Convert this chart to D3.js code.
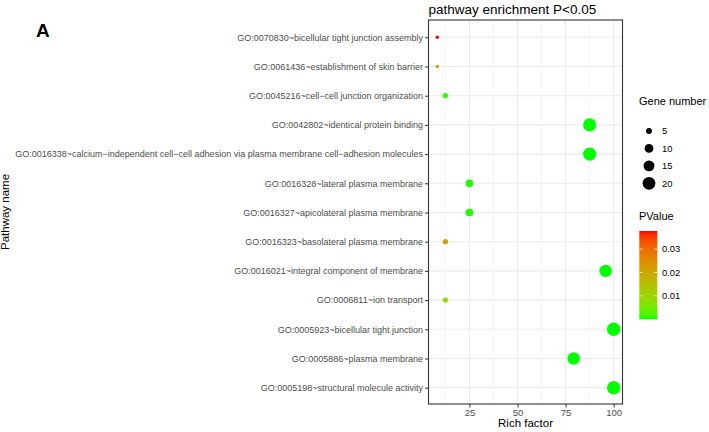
<!DOCTYPE html>
<html><head><meta charset="utf-8">
<script src="https://cdn.jsdelivr.net/npm/d3@7"></script>
<style>body{margin:0;background:#fff;} svg{display:block;font-family:"Liberation Sans",Arial,sans-serif;}</style>
</head><body>
<svg id="c" width="709" height="432"></svg>
<script>
const pathways = [
  "GO:0070830~bicellular tight junction assembly",
  "GO:0061436~establishment of skin barrier",
  "GO:0045216~cell\u2212cell junction organization",
  "GO:0042802~identical protein binding",
  "GO:0016338~calcium\u2212independent cell\u2212cell adhesion via plasma membrane cell\u2212adhesion molecules",
  "GO:0016328~lateral plasma membrane",
  "GO:0016327~apicolateral plasma membrane",
  "GO:0016323~basolateral plasma membrane",
  "GO:0016021~integral component of membrane",
  "GO:0006811~ion transport",
  "GO:0005923~bicellular tight junction",
  "GO:0005886~plasma membrane",
  "GO:0005198~structural molecule activity"
];
const richFactor = [8.3, 8.3, 12.5, 87.5, 87.5, 25, 25, 12.5, 95.8, 12.5, 100, 79.2, 100];
const geneNumber = [2, 2, 4, 21, 21, 8, 8, 4, 19, 4, 22, 19, 22];
const pValue = [0.0377, 0.021, 0.0008, 0.00001, 0.00001, 0.0004, 0.0004, 0.021, 0.00001, 0.009, 0.00001, 0.00001, 0.00001];
const xTicks = [25, 50, 75, 100];
const sizeBreaks = [5, 10, 15, 20];
const colorBreaks = [0.01, 0.02, 0.03];

const svg = d3.select("#c");
const L = 428.5, R = 622.5, T = 20, B = 404;

const xMin = d3.min(richFactor), xMax = d3.max(richFactor);
const xPad = (xMax - xMin) * 0.05;
const x = d3.scaleLinear().domain([xMin - xPad, xMax + xPad]).range([L, R]);
const y = d3.scalePoint().domain(pathways).range([37.3, 387.7]);
const gMin = d3.min(geneNumber), gMax = d3.max(geneNumber);
const rs = d3.scaleLinear().domain([Math.sqrt(gMin), Math.sqrt(gMax)]).range([1.7, 6.7]);
const r = g => rs(Math.sqrt(g));
const pMin = 0, pMax = d3.max(pValue);
const color = d3.scaleLinear().domain([pMin, pMax]).range(["#00ff00", "#ff0000"]).interpolate(d3.interpolateLab);

svg.append("rect").attr("x", L).attr("y", T).attr("width", R - L).attr("height", B - T).attr("fill", "#fff");

const minor = [12.5, 37.5, 62.5, 87.5];
svg.append("g").selectAll("line").data(minor).join("line")
  .attr("x1", d => x(d)).attr("x2", d => x(d)).attr("y1", T).attr("y2", B)
  .attr("stroke", "#f0f0f0").attr("stroke-width", 0.6);
svg.append("g").selectAll("line").data(xTicks).join("line")
  .attr("x1", d => x(d)).attr("x2", d => x(d)).attr("y1", T).attr("y2", B)
  .attr("stroke", "#ebebeb").attr("stroke-width", 1.1);
svg.append("g").selectAll("line").data(pathways).join("line")
  .attr("x1", L).attr("x2", R).attr("y1", d => y(d)).attr("y2", d => y(d))
  .attr("stroke", "#ebebeb").attr("stroke-width", 1.1);

const data = pathways.map((p, i) => ({p, rf: richFactor[i], g: geneNumber[i], pv: pValue[i]}));
svg.append("g").selectAll("circle").data(data).join("circle")
  .attr("cx", d => x(d.rf)).attr("cy", d => y(d.p)).attr("r", d => r(d.g))
  .attr("fill", d => color(d.pv));

svg.append("rect").attr("x", L).attr("y", T).attr("width", R - L).attr("height", B - T)
  .attr("fill", "none").attr("stroke", "#333").attr("stroke-width", 1.1);

const xAxis = svg.append("g").attr("transform", `translate(0,${B})`)
  .call(d3.axisBottom(x).tickValues(xTicks).tickSize(3.5).tickPadding(2));
xAxis.select(".domain").remove();
xAxis.selectAll("line").attr("stroke", "#333");
xAxis.selectAll("text").attr("fill", "#4d4d4d").style("font-size", "9.5px").style("font-family", "Liberation Sans, Arial, sans-serif");

const yAxis = svg.append("g").attr("transform", `translate(${L},0)`)
  .call(d3.axisLeft(y).tickSize(3.5).tickPadding(2));
yAxis.select(".domain").remove();
yAxis.selectAll("line").attr("stroke", "#333");
yAxis.selectAll("text").attr("fill", "#4d4d4d").style("font-size", "9px").style("font-family", "Liberation Sans, Arial, sans-serif");

svg.append("text").attr("x", L).attr("y", 14).text("pathway enrichment P<0.05")
  .attr("font-size", "13.5px").attr("fill", "#000");
svg.append("text").attr("x", (L + R) / 2).attr("y", 427).attr("text-anchor", "middle")
  .text("Rich factor").attr("font-size", "11.5px");
svg.append("text").attr("transform", `translate(9,${(T + B) / 2}) rotate(-90)`)
  .attr("text-anchor", "middle").text("Pathway name").attr("font-size", "11.5px");
svg.append("text").attr("x", 36).attr("y", 37).text("A").attr("font-size", "19px").attr("font-weight", "bold");

const sl = svg.append("g");
sl.append("text").attr("x", 639).attr("y", 105).text("Gene number").attr("font-size", "11px");
const sy = d3.scalePoint().domain(sizeBreaks).range([131, 183.3]);
sl.selectAll("circle").data(sizeBreaks).join("circle")
  .attr("cx", 649).attr("cy", d => sy(d)).attr("r", d => r(d)).attr("fill", "#000");
sl.selectAll("text.lab").data(sizeBreaks).join("text").attr("class", "lab")
  .attr("x", 662).attr("y", d => sy(d) + 3.3).text(d => d).attr("font-size", "9.4px").attr("fill", "#000");

const cl = svg.append("g");
cl.append("text").attr("x", 639).attr("y", 220).text("PValue").attr("font-size", "11px");
const barTop = 231, barBot = 319.3, barL = 639.3, barW = 18;
const cy = d3.scaleLinear().domain([pMin, pMax]).range([barBot, barTop]);
const defs = svg.append("defs");
const grad = defs.append("linearGradient").attr("id", "pg").attr("x1", 0).attr("y1", 1).attr("x2", 0).attr("y2", 0);
d3.range(0, 1.0001, 0.05).forEach(t => {
  grad.append("stop").attr("offset", t).attr("stop-color", color(pMin + t * (pMax - pMin)));
});
cl.append("rect").attr("x", barL).attr("y", barTop).attr("width", barW).attr("height", barBot - barTop).attr("fill", "url(#pg)");
cl.selectAll("line.t1").data(colorBreaks).join("line").attr("class", "t1")
  .attr("x1", barL).attr("x2", barL + 3.6).attr("y1", d => cy(d)).attr("y2", d => cy(d)).attr("stroke", "#fff").attr("stroke-opacity", 0.6);
cl.selectAll("line.t2").data(colorBreaks).join("line").attr("class", "t2")
  .attr("x1", barL + barW - 3.6).attr("x2", barL + barW).attr("y1", d => cy(d)).attr("y2", d => cy(d)).attr("stroke", "#fff").attr("stroke-opacity", 0.6);
cl.selectAll("text.lab").data(colorBreaks).join("text").attr("class", "lab")
  .attr("x", 662).attr("y", d => cy(d) + 3.3).text(d => d.toFixed(2)).attr("font-size", "9.4px");
</script>
</body></html>
